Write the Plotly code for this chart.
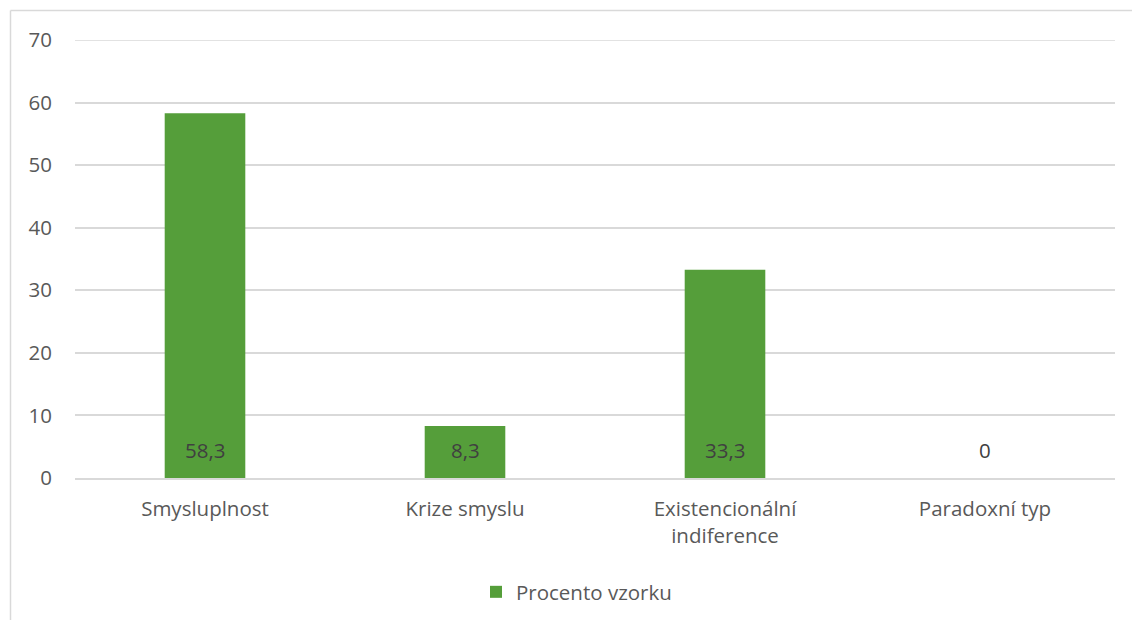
import plotly.graph_objects as go

categories = ["Smysluplnost", "Krize smyslu", "Existencionální<br>indiference", "Paradoxní typ"]
values = [58.3, 8.3, 33.3, 0]
value_labels = ["58,3", "8,3", "33,3", "0"]
series_name = "Procento vzorku"
y_ticks = [0, 10, 20, 30, 40, 50, 60, 70]

FONT = "Open Sans, Segoe UI, sans-serif"
GREEN = "#559E3A"
GRID = "#D9D9D9"
OFF = 8  # page body margin

fig = go.Figure()
fig.add_trace(go.Bar(
    x=categories, y=values, name=series_name,
    marker=dict(color=GREEN, line=dict(width=0)),
    width=0.31,
    hoverinfo="skip",
))

for c, v, lab in zip(categories, values, value_labels):
    fig.add_annotation(x=c, y=0, text=lab, showarrow=False,
                       yanchor="bottom", yshift=12,
                       font=dict(family=FONT, size=20.5, color="#404040"))

W, H = 1140, 620
L, T = 75 - OFF, 40 - OFF
R = W - (1115 - OFF)
B = H - (478 - OFF)
pw, ph = W - L - R, H - T - B

def px(x):
    return (x - OFF - L) / pw

def py(y):
    return 1 - (y - OFF - T) / ph

# top gridline (at the axis maximum)
fig.add_shape(type="line", xref="paper", yref="y", layer="below",
              x0=0, x1=1, y0=y_ticks[-1], y1=y_ticks[-1],
              line=dict(color=GRID, width=1.5))

# chart-area border (left and top edges visible)
fig.add_shape(type="line", xref="paper", yref="paper",
              x0=px(10.5), x1=px(10.5), y0=py(10.5), y1=py(700),
              line=dict(color=GRID, width=1.5))
fig.add_shape(type="line", xref="paper", yref="paper",
              x0=px(10.5), x1=px(1200), y0=py(10.5), y1=py(10.5),
              line=dict(color=GRID, width=1.5))

fig.update_layout(
    width=W, height=H,
    margin=dict(l=L, r=R, t=T, b=B),
    paper_bgcolor="white", plot_bgcolor="white",
    font=dict(family=FONT, size=20.5, color="#595959"),
    showlegend=True,
    legend=dict(orientation="h", x=px(476), xanchor="left", y=py(592), yanchor="middle",
                font=dict(family=FONT, size=20.5, color="#595959")),
    xaxis=dict(showgrid=False, showline=True, linecolor=GRID, linewidth=1.5,
               ticks="", tickfont=dict(size=20.5, color="#595959"),
               ticklabelstandoff=12),
    yaxis=dict(range=[0, 70], tickvals=y_ticks, showgrid=True, gridcolor=GRID,
               gridwidth=1.5, zeroline=False, showline=False, ticks="",
               tickfont=dict(size=20.5, color="#595959"), ticklabelstandoff=22),
    bargap=0.69,
)

fig.write_html("out.html")
